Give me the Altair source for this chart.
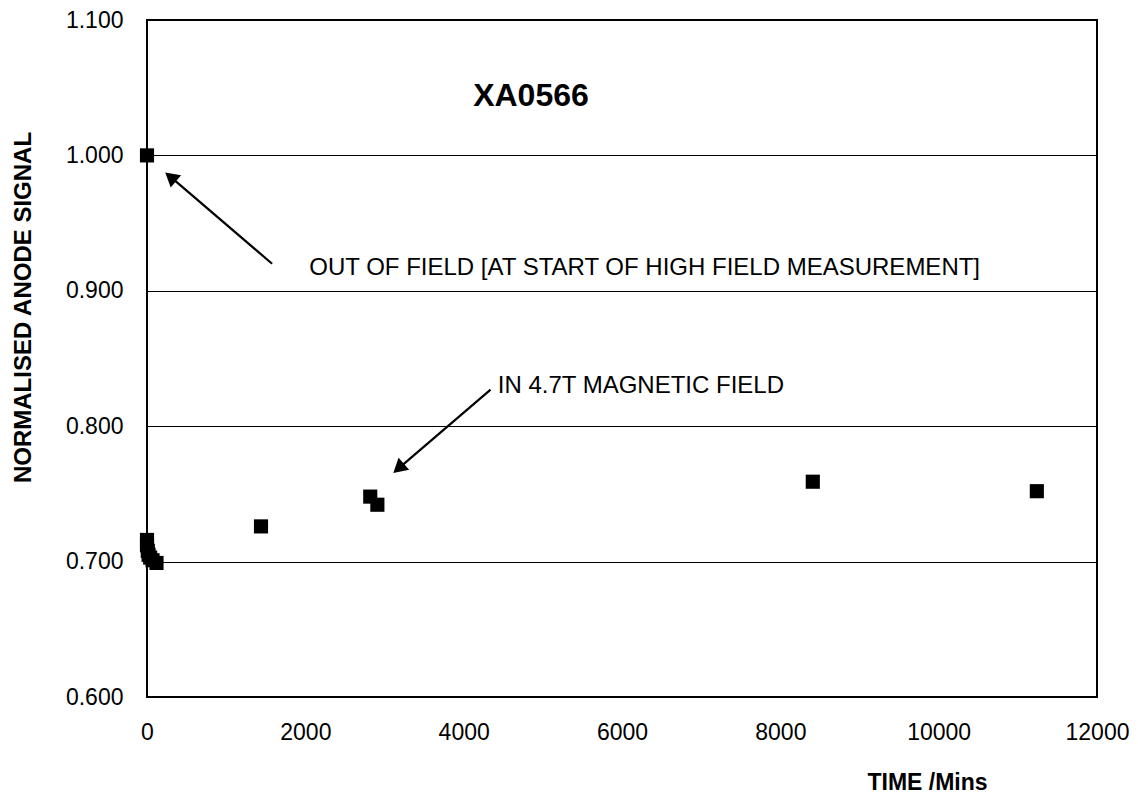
import altair as alt
import pandas as pd

# measured data
time_min = [0, 0, 0, 10, 20, 40, 70, 120, 1440, 2820, 2910, 8410, 11240]
signal = [1.000, 0.716, 0.712, 0.708, 0.705, 0.703, 0.701, 0.699, 0.726, 0.748, 0.742, 0.759, 0.752]

# annotation arrows (tail -> tip), in data units
arrow_id = ["a1", "a1", "a2", "a2"]
arrow_x = [1580, 320, 4340, 3200]
arrow_y = [0.920, 0.983, 0.827, 0.770]
head_x = [320, 3200]
head_y = [0.983, 0.770]
head_angle = [310, 229]

# text labels
ann_text = ["OUT OF FIELD [AT START OF HIGH FIELD MEASUREMENT]", "IN 4.7T MAGNETIC FIELD"]
ann_x = [2050, 4430]
ann_y = [0.917, 0.830]
title_text = ["XA0566"]
title_x = [4850]
title_y = [1.0437]

y_ticks = [0.6, 0.7, 0.8, 0.9, 1.0, 1.1]
x_ticks = [0, 2000, 4000, 6000, 8000, 10000, 12000]

FONT = "Liberation Sans"

df = pd.DataFrame({"t": time_min, "s": signal})
arrows = pd.DataFrame({"id": arrow_id, "x": arrow_x, "y": arrow_y})
heads = pd.DataFrame({"x": head_x, "y": head_y, "ang": head_angle})
anns = pd.DataFrame({"x": ann_x, "y": ann_y, "label": ann_text})
ttl = pd.DataFrame({"x": title_x, "y": title_y, "label": title_text})

xscale = alt.Scale(domain=[0, 12000], nice=False, zero=False)
yscale = alt.Scale(domain=[0.6, 1.1], nice=False, zero=False)

xaxis = alt.Axis(
    values=x_ticks, format="d", grid=False, ticks=False, domain=False,
    labelFont=FONT, labelFontSize=23, labelColor="black", labelPadding=24,
    title="TIME /Mins", titleFont=FONT, titleFontSize=23, titleFontWeight="bold",
    titleColor="black", titleX=780, titleY=85, titleAlign="center", titleBaseline="middle",
    labelFlush=False,
)
yaxis = alt.Axis(
    values=y_ticks, format=".3f", grid=True, gridColor="black", gridOpacity=1,
    gridWidth=1.2, ticks=False, domain=False,
    labelFont=FONT, labelFontSize=23, labelColor="black", labelPadding=24,
    title="NORMALISED ANODE SIGNAL", titleFont=FONT, titleFontSize=24,
    titleFontWeight="bold", titleColor="black", titleAngle=270,
    titleX=-124, titleY=287, titleAlign="center", titleBaseline="middle",
    labelFlush=False,
)

points = alt.Chart(df).mark_square(size=200, color="black", opacity=1, filled=True).encode(
    x=alt.X("t:Q", scale=xscale, axis=xaxis),
    y=alt.Y("s:Q", scale=yscale, axis=yaxis),
)

lines = alt.Chart(arrows).mark_line(color="black", strokeWidth=2.2).encode(
    x=alt.X("x:Q", scale=xscale), y=alt.Y("y:Q", scale=yscale), detail="id:N"
)

heads_m = alt.Chart(heads).mark_point(shape="triangle", filled=True, color="black",
                                     size=260, opacity=1).encode(
    x=alt.X("x:Q", scale=xscale), y=alt.Y("y:Q", scale=yscale),
    angle=alt.Angle("ang:Q", scale=None),
)

ann_m = alt.Chart(anns).mark_text(align="left", baseline="middle", font=FONT,
                                  fontSize=24, color="black").encode(
    x=alt.X("x:Q", scale=xscale), y=alt.Y("y:Q", scale=yscale), text="label:N"
)

ttl_m = alt.Chart(ttl).mark_text(align="center", baseline="middle", font=FONT,
                                 fontSize=32, fontWeight="bold", color="black").encode(
    x=alt.X("x:Q", scale=xscale), y=alt.Y("y:Q", scale=yscale), text="label:N"
)

chart = alt.layer(lines, heads_m, points, ann_m, ttl_m).properties(
    width=950, height=677,
    autosize=alt.AutoSizeParams(type="none"),
    padding={"left": 139, "top": 12, "right": 33, "bottom": 97},
    background="white",
).configure_view(stroke="black", strokeWidth=2)

chart.save("out.html", embed_options={"renderer": "svg", "actions": False})
